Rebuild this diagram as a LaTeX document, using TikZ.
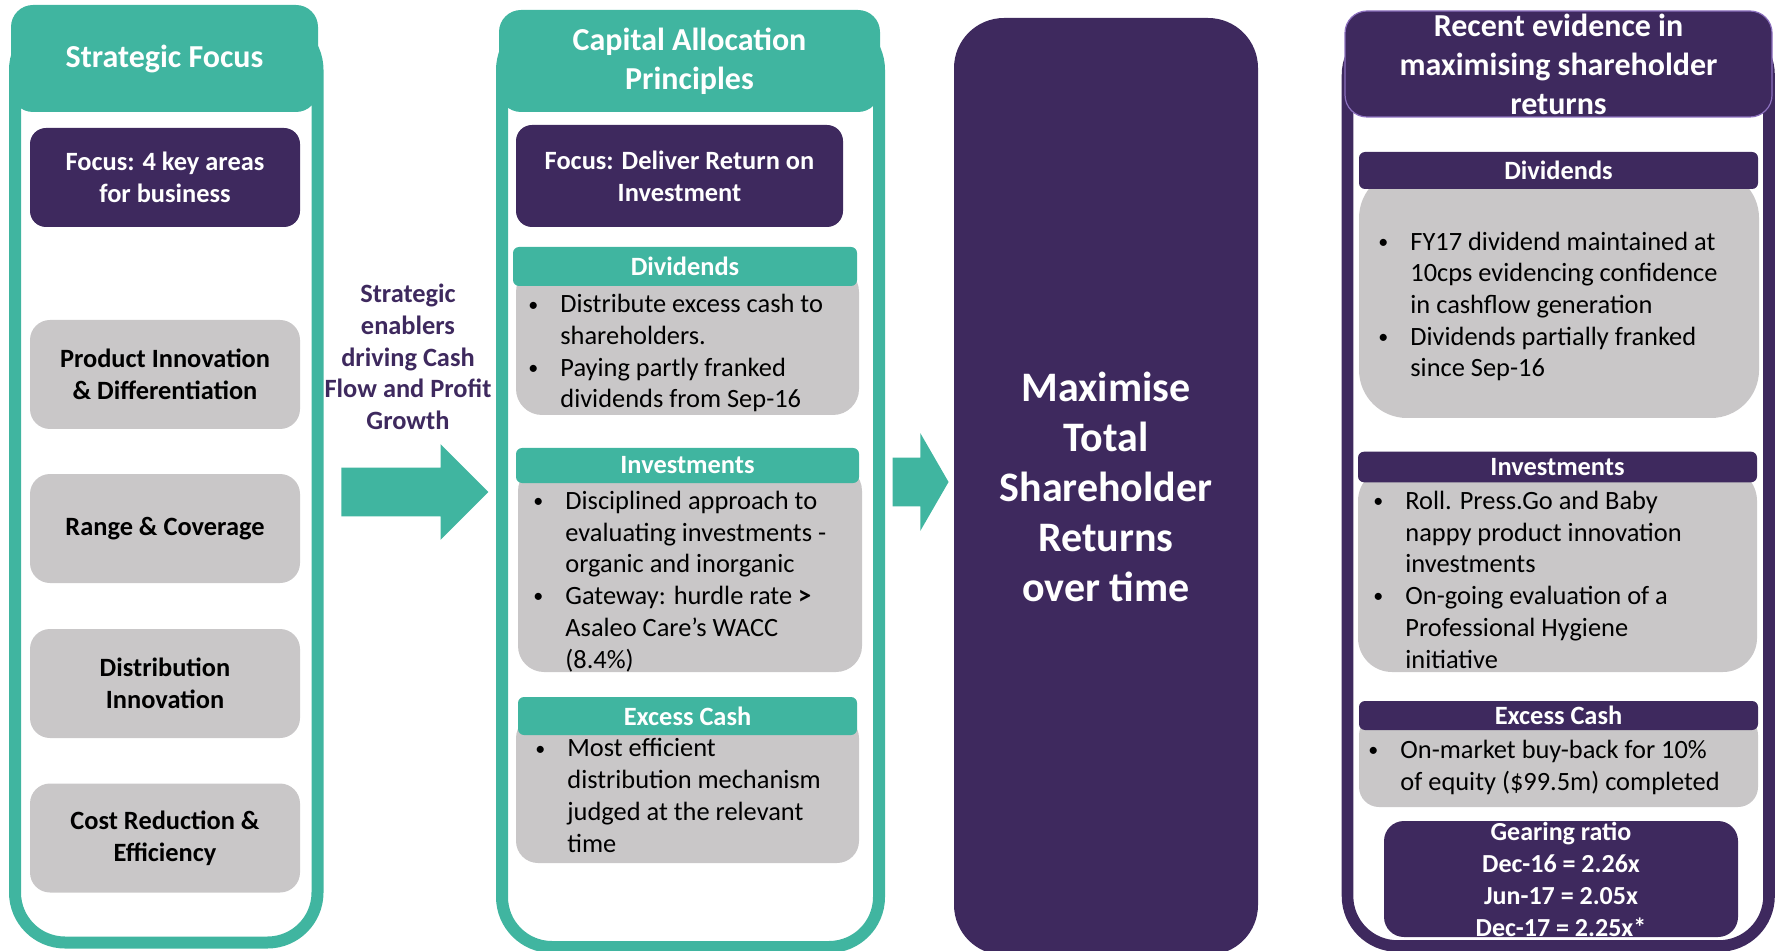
\documentclass[tikz,border=0pt]{standalone}
\usepackage{fontspec}
\setmainfont{Carlito}
\usetikzlibrary{shapes.arrows}
\definecolor{asteal}{RGB}{64,181,160}
\definecolor{aspurple}{RGB}{62,41,94}
\definecolor{asgrey}{RGB}{201,199,200}
\definecolor{aslilac}{RGB}{140,112,190}

\newcommand{\bulletmark}{\makebox[16pt][l]{\raisebox{0.9pt}{\fontsize{10}{10}\selectfont\textbullet}}}
\newcommand{\bulletgap}{\hspace*{16pt}}

\tikzstyle{panel} = [draw, line width=6pt, rounded corners=25pt]
\tikzstyle{tealhead} = [rectangle, rounded corners=11pt, fill=asteal, text=white, align=center, inner sep=0pt, font=\fontsize{16}{19.5}\selectfont\bfseries]
\tikzstyle{purplehead} = [tealhead, fill=aspurple, draw=aslilac, line width=0.6pt]
\tikzstyle{purplebox} = [rectangle, rounded corners=8pt, fill=aspurple, text=white, align=center, inner sep=0pt, font=\fontsize{13.2}{15.85}\selectfont\bfseries]
\tikzstyle{areabox} = [rectangle, rounded corners=10pt, fill=asgrey, align=center, inner sep=0pt, minimum width=135pt, minimum height=54.5pt, font=\fontsize{13.2}{15.85}\selectfont\bfseries]
\tikzstyle{subhead} = [rectangle, rounded corners=3pt, inner sep=0pt, text=white, font=\fontsize{13.2}{15.85}\selectfont\bfseries]
\tikzstyle{bodybox} = [rectangle, fill=asgrey, inner sep=0pt]
% bullet lists are placed by the baseline of their last line
\tikzstyle{bullets} = [align=left, inner sep=0pt, anchor=base west, font=\fontsize{13.2}{15.85}\selectfont]
\tikzstyle{bigarrow} = [single arrow, fill=asteal, inner xsep=0pt, inner ysep=12pt, single arrow head indent=0pt, anchor=tip]

\begin{document}
\begin{tikzpicture}[x=0.5pt, y=-0.5pt]
    \useasboundingbox (0,0) rectangle (1775,951);

    % The three framed columns
    \draw[panel, asteal] (15,20) rectangle (317.5,942.5);
    \draw[panel, asteal] (502,20) rectangle (879,947);
    \draw[panel, aspurple, line width=5.8pt] (1347.5,25) rectangle (1769,946);

    % First column: strategic focus
    \node[tealhead, minimum width=153.5pt, minimum height=53.5pt] (stratHead) at (164.5,58.5) {Strategic Focus};
    \node[purplebox, minimum width=135pt, minimum height=49.5pt] (focusA) at (165,177.5) {Focus: 4 key areas\\for business};
    \foreach \y/\name/\txt in {374.5/prod/{Product Innovation\\\& Differentiation},
                               528.5/range/{Range \& Coverage},
                               683.5/dist/{Distribution\\Innovation},
                               838/cost/{Cost Reduction \&\\Efficiency}}
        \node[areabox] (\name) at (165,\y) {\txt};

    \node[align=center, inner sep=0pt, text=aspurple, font=\fontsize{13.2}{15.85}\selectfont\bfseries] (enablers) at (408,357)
        {Strategic\\enablers\\driving Cash\\Flow and Profit\\Growth};
    \node[bigarrow, minimum height=73.5pt, single arrow head extend=11.75pt, single arrow tip angle=90] (arrowA) at (489,492) {};

    % Second column: capital allocation
    \node[tealhead, minimum width=190.5pt, minimum height=51pt] (capHead) at (689.5,61) {Capital Allocation\\Principles};
    \node[purplebox, minimum width=163.5pt, minimum height=51pt] (focusB) at (679.5,176) {Focus: Deliver Return on\\Investment};

    \node[bodybox, rounded corners=13pt, minimum width=171.5pt, minimum height=74.5pt] (divBodyB) at (687.5,340.5) {};
    \node[bodybox, rounded corners=13pt, minimum width=172pt, minimum height=103.5pt] (invBodyB) at (690,568.5) {};
    \node[bodybox, rounded corners=11pt, minimum width=171.5pt, minimum height=73.5pt] (cashBodyB) at (687.5,789.5) {};
    \node[subhead, fill=asteal, minimum width=172pt, minimum height=19.5pt] (divHeadB) at (685,266.5) {Dividends};
    \node[subhead, fill=asteal, minimum width=171.5pt, minimum height=17.5pt] (invHeadB) at (687.5,465.5) {Investments};
    \node[subhead, fill=asteal, minimum width=169.5pt, minimum height=19pt] (cashHeadB) at (687.5,716) {Excess Cash};

    \node[bullets] (divTextB) at (528,408)
        {\bulletmark Distribute excess cash to\\\bulletgap shareholders.\\\bulletmark Paying partly franked\\\bulletgap dividends from Sep-16};
    \node[bullets] (invTextB) at (533,668)
        {\bulletmark Disciplined approach to\\\bulletgap evaluating investments -\\\bulletgap organic and inorganic\\\bulletmark Gateway: hurdle rate \textbf{>}\\\bulletgap Asaleo Care’s WACC\\\bulletgap (8.4\%)};
    \node[bullets] (cashTextB) at (535,852)
        {\bulletmark Most efficient\\\bulletgap distribution mechanism\\\bulletgap judged at the relevant\\\bulletgap time};

    \node[bigarrow, minimum height=28pt, single arrow head extend=12.25pt, single arrow tip angle=120] (arrowB) at (949,482) {};

    % Third column: the goal
    \node[rectangle, rounded corners=25pt, fill=aspurple, text=white, align=center, inner sep=0pt,
          minimum width=152pt, minimum height=468.5pt, font=\fontsize{21}{25}\selectfont\bfseries] (goal) at (1106,486.5)
        {Maximise\\Total\\Shareholder\\Returns\\over time};

    % Fourth column: recent evidence
    \node[purplehead, minimum width=213.5pt, minimum height=53pt] (evidHead) at (1558.5,64)
        {Recent evidence in\\maximising shareholder\\returns};

    \node[bodybox, rounded corners=24pt, minimum width=200pt, minimum height=124pt] (divBodyD) at (1559,294) {};
    \node[bodybox, rounded corners=17pt, minimum width=199.5pt, minimum height=102.5pt] (invBodyD) at (1557.5,569.5) {};
    \node[bodybox, rounded corners=10pt, minimum width=199.5pt, minimum height=46pt] (cashBodyD) at (1558.5,761) {};
    \node[subhead, fill=aspurple, minimum width=199.5pt, minimum height=18.5pt] (divHeadD) at (1558.5,170.5) {Dividends};
    \node[subhead, fill=aspurple, minimum width=199.5pt, minimum height=15.3pt] (invHeadD) at (1557.5,467) {Investments};
    \node[subhead, fill=aspurple, minimum width=199.5pt, minimum height=14.5pt] (cashHeadD) at (1558.5,715.5) {Excess Cash};

    \node[bullets] (divTextD) at (1378,377)
        {\bulletmark FY17 dividend maintained at\\\bulletgap 10cps evidencing confidence\\\bulletgap in cashflow generation\\\bulletmark Dividends partially franked\\\bulletgap since Sep-16};
    \node[bullets] (invTextD) at (1373,668)
        {\bulletmark Roll. Press.Go and Baby\\\bulletgap nappy product innovation\\\bulletgap investments\\\bulletmark On-going evaluation of a\\\bulletgap Professional Hygiene\\\bulletgap initiative};
    \node[bullets] (cashTextD) at (1368,790)
        {\bulletmark On-market buy-back for 10\%\\\bulletgap of equity (\$99.5m) completed};

    \node[purplebox, rounded corners=10pt, minimum width=177pt, minimum height=58pt, font=\fontsize{13}{16}\selectfont\bfseries] (gearing) at (1561,879)
        {Gearing ratio\\Dec-16 = 2.26x\\Jun-17 = 2.05x\\Dec-17 = 2.25x*};
\end{tikzpicture}
\end{document}
